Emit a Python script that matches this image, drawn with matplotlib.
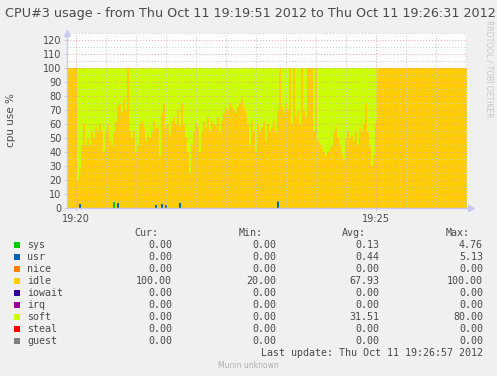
import numpy as np
import matplotlib
matplotlib.use("Agg")
import matplotlib.pyplot as plt

W, H = 497, 376

# --- data (seconds after 19:19:51) ---
idle_mid = [20, 25, 45, 60, 45, 50, 45, 55, 50, 58, 55, 60, 55, 40, 55, 60, 48, 45, 50, 62,
            70, 75, 68, 78, 70, 100, 55, 50, 55, 40, 45, 60, 62, 58, 48, 52, 50, 55, 62, 55,
            58, 37, 65, 75, 55, 60, 52, 62, 65, 60, 70, 55, 75, 60, 50, 40, 25, 45, 55, 60,
            58, 40, 55, 62, 58, 65, 55, 62, 60, 58, 65, 55, 62, 68, 72, 70, 75, 72, 70, 68,
            72, 75, 78, 72, 68, 60, 45, 62, 55, 40, 60, 55, 58, 62, 48, 60, 55, 58, 62, 55,
            65, 100, 72, 68, 75, 70, 100, 60, 100, 65, 70, 60, 100, 70, 65, 100, 100, 100, 55, 100,
            48, 45, 42, 40, 37, 40, 42, 45, 55, 58, 50, 45, 38, 35, 50, 55, 50, 52, 48, 55,
            45, 58, 55, 60, 75, 55, 45, 30, 38, 60]
t_mid = 10 + 2 * np.arange(len(idle_mid))
t = np.concatenate([[0], t_mid, [310, 400]])
idle = np.array([100] + idle_mid + [100, 100], dtype=float)

# small usr / sys spikes (time -> percent)
usr_spikes = {12: 3.0, 50: 3.5, 88: 2.5, 94: 3.0, 98: 2.0, 112: 4.0, 210: 5.13}
sys_spikes = {46: 4.76}
usr = np.zeros_like(idle)
sys_ = np.zeros_like(idle)
for k, v in usr_spikes.items():
    usr[np.searchsorted(t, k)] = v
for k, v in sys_spikes.items():
    sys_[np.searchsorted(t, k)] = v
nice = np.zeros_like(idle)
iowait = np.zeros_like(idle)
irq = np.zeros_like(idle)
soft = np.clip(100 - idle - usr - sys_, 0, None)
steal = np.zeros_like(idle)
guest = np.zeros_like(idle)

names = ["sys", "usr", "nice", "idle", "iowait", "irq", "soft", "steal", "guest"]
colors = ["#00CC00", "#0066B3", "#FF8000", "#FFCC00", "#330099", "#990099", "#CCFF00", "#FF0000", "#808080"]
cur = ["0.00", "0.00", "0.00", "100.00", "0.00", "0.00", "0.00", "0.00", "0.00"]
mins = ["0.00", "0.00", "0.00", "20.00", "0.00", "0.00", "0.00", "0.00", "0.00"]
avgs = ["0.13", "0.44", "0.00", "67.93", "0.00", "0.00", "31.51", "0.00", "0.00"]
maxs = ["4.76", "5.13", "0.00", "100.00", "0.00", "0.00", "80.00", "0.00", "0.00"]

BG = "#F0F0F0"
TXT = "#4a4a4a"
fig = plt.figure(figsize=(W / 100, H / 100), dpi=100, facecolor=BG)
px = lambda x: x / W
py = lambda y: 1 - y / H

ax = fig.add_axes([px(67), py(208.3), 400 / W, (208.3 - 33) / H])
ax.set_facecolor("white")
ax.stackplot(t, sys_, usr, nice, idle, iowait, irq, soft, steal, guest,
             colors=colors, step="post", linewidth=0, antialiased=False)
ax.set_xlim(0, 400)
ax.set_ylim(0, 125.2)

# grid on top of data
for v in range(5, 126, 5):
    c = "#E8A0A0" if v % 10 == 0 and v <= 120 else "#C8C8C8"
    ax.axhline(v, color=c, lw=0.7, ls=(0, (1, 2)), zorder=5)
for s in range(9, 400, 30):
    c = "#E8A0A0" if s in (9, 309) else "#C8C8C8"
    ax.axvline(s, color=c, lw=0.7, ls=(0, (1, 2)), zorder=5)

for sp in ["top", "right"]:
    ax.spines[sp].set_visible(False)
for sp in ["left", "bottom"]:
    ax.spines[sp].set_color("#C8C8F0")
    ax.spines[sp].set_linewidth(1)
ax.plot([0], [125.2], marker="^", color="#C8C8F0", ms=4, clip_on=False, zorder=6)
ax.plot([404], [0], marker=">", color="#C8C8F0", ms=4, clip_on=False, zorder=6)

ax.set_yticks(range(0, 121, 10))
ax.set_xticks([9, 309])
ax.set_xticklabels(["19:20", "19:25"])
ax.tick_params(axis="both", labelsize=7, colors=TXT, length=2, width=0.6, pad=2)
ax.tick_params(axis="both", color="#C8C8C8")

fig.text(px(250), py(13), "CPU#3 usage - from Thu Oct 11 19:19:51 2012 to Thu Oct 11 19:26:31 2012",
         ha="center", va="center", fontsize=9.2, color=TXT)
fig.text(px(11), py(120), "cpu use %", rotation=90, ha="center", va="center", fontsize=7.5, color=TXT)
fig.text(px(489), py(20), "RRDTOOL / TOBI OETIKER", rotation=270, ha="center", va="top",
         fontsize=5.5, color="#C8C8C8")

mono = dict(family="DejaVu Sans Mono", fontsize=7.2, color=TXT)
hy = 233
fig.text(px(158), py(hy), "Cur:", ha="right", va="center", **mono)
fig.text(px(263), py(hy), "Min:", ha="right", va="center", **mono)
fig.text(px(366), py(hy), "Avg:", ha="right", va="center", **mono)
fig.text(px(470), py(hy), "Max:", ha="right", va="center", **mono)
for i, n in enumerate(names):
    y = 245 + 12 * i
    fig.patches.append(plt.Rectangle((px(14), py(y + 3)), 6 / W, 6 / H, transform=fig.transFigure,
                                     facecolor=colors[i], edgecolor="none"))
    fig.text(px(27), py(y), n, ha="left", va="center", **mono)
    fig.text(px(172), py(y), cur[i], ha="right", va="center", **mono)
    fig.text(px(276), py(y), mins[i], ha="right", va="center", **mono)
    fig.text(px(379), py(y), avgs[i], ha="right", va="center", **mono)
    fig.text(px(483), py(y), maxs[i], ha="right", va="center", **mono)
fig.text(px(483), py(353), "Last update: Thu Oct 11 19:26:57 2012", ha="right", va="center", **mono)
fig.text(px(248), py(365), "Munin unknown", ha="center", va="center", fontsize=5.5, color="#B0B0B0")

fig.savefig("out.png", dpi=100, facecolor=BG)
